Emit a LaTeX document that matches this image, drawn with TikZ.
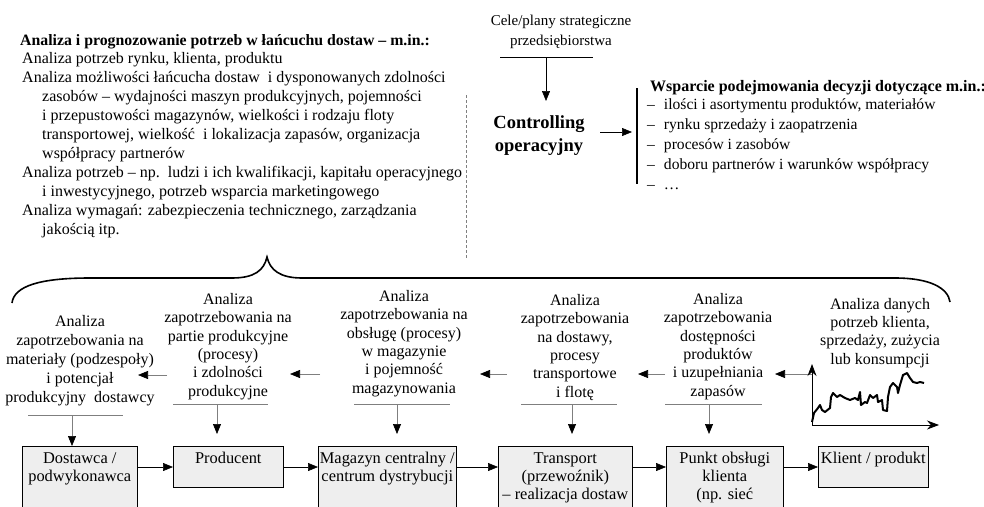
\documentclass[tikz,border=0pt]{standalone}
\usepackage{fontspec}
\setmainfont{Liberation Serif}
\usetikzlibrary{arrows.meta}
\definecolor{boxgray}{HTML}{EEEEEE}
\definecolor{linegray}{HTML}{7F7F7F}
\begin{document}
\begin{tikzpicture}[x=1pt,y=-1pt,
  txt/.style={font=\fontsize{16}{19}\selectfont, inner sep=0pt},
  col/.style={txt, align=center, anchor=base},
  ncol/.style={col, font=\fontsize{16}{18.3}\selectfont},
  lst/.style={txt, align=left, anchor=base west},
  boxnode/.style={draw=black, line width=0.6pt, fill=boxgray, inner xsep=0pt, inner ysep=5pt,
    anchor=north west, font=\fontsize{16.4}{18}\selectfont},
  tip/.style={line width=0.6pt, -{Triangle[length=10pt,width=8pt]}},
  garr/.style={draw=linegray, line width=0.7pt, -{Triangle[length=10pt,width=8pt,black]}},
  uline/.style={draw=linegray, line width=0.9pt},
  axis/.style={line width=0.8pt, -{Stealth[length=12pt,width=9pt]}}
]
\useasboundingbox (0,0) rectangle (984,506);
\clip (0,0) rectangle (984,506);

% ---------- strategic goals and operational controlling ----------
% (multi-line nodes are placed by the baseline of their last line)
\node[col, font=\fontsize{15}{20}\selectfont] (cele) at (561,45) {Cele/plany strategiczne\\przedsiębiorstwa};
\coordinate (celeL) at (500,57);
\coordinate (celeR) at (593,57);
\draw[line width=1pt] (celeL) -- (celeR);
\coordinate (celeA) at (546,57);
\node[col, font=\bfseries\fontsize{18.5}{23}\selectfont] (ctrl) at (539,151) {Controlling\\operacyjny};
\draw[tip] (celeA) -- (546,101);

% decision support list
\coordinate (barT) at (637,88);
\coordinate (barB) at (637,184);
\draw[line width=1.6pt] (barT) -- (barB);
\draw[tip] (600,132) -- (632,132);
\node[lst, font=\bfseries\fontsize{16}{19}\selectfont] (wsp) at (650,91)
  {Wsparcie podejmowania decyzji dotyczące m.in.:};
\node[lst, font=\fontsize{15.6}{20}\selectfont] (wspl) at (647,109)
  {\begin{tabular}[t]{@{}l@{\hspace{9pt}}l@{}}
   – & ilości i asortymentu produktów, materiałów\\
   – & rynku sprzedaży i zaopatrzenia\\
   – & procesów i zasobów\\
   – & doboru partnerów i warunków współpracy\\
   – & \dots
   \end{tabular}};

% ---------- analysis list ----------
\node[lst, font=\bfseries\fontsize{15.8}{19}\selectfont] (ana) at (20,45)
  {Analiza i prognozowanie potrzeb w łańcuchu dostaw – m.in.:};
\node[lst] (anal) at (22,234)
  {Analiza potrzeb rynku, klienta, produktu\\
   Analiza możliwości łańcucha dostaw\ \ i dysponowanych zdolności\\
   \hspace*{20pt}zasobów – wydajności maszyn produkcyjnych, pojemności\\
   \hspace*{20pt}i przepustowości magazynów, wielkości i rodzaju floty\\
   \hspace*{20pt}transportowej, wielkość\ \ i lokalizacja zapasów, organizacja\\
   \hspace*{20pt}współpracy partnerów\\
   Analiza potrzeb – np.\ \ ludzi i ich kwalifikacji, kapitału operacyjnego\\
   \hspace*{20pt}i inwestycyjnego, potrzeb wsparcia marketingowego\\
   Analiza wymagań: zabezpieczenia technicznego, zarządzania\\
   \hspace*{20pt}jakością itp.};
\draw[draw=linegray, line width=0.8pt, dash pattern=on 3pt off 2pt] (466,95) -- (466,259);

% brace
\draw[line width=1.6pt] (12,303) .. controls (14,286) and (40,278) .. (90,278)
  -- (232,278) .. controls (255,278) and (264,270) .. (267,257)
  .. controls (270,270) and (280,278) .. (302,278)
  -- (895,278) .. controls (930,278) and (948,288) .. (950,302);

% ---------- demand analysis columns ----------
\node[col] (c1) at (80,402) {Analiza\\zapotrzebowania na\\materiały (podzespoły)\\i potencjał\\produkcyjny\ \ dostawcy};
\node[ncol] (c2) at (228,396) {Analiza\\zapotrzebowania na\\partie produkcyjne\\(procesy)\\i zdolności\\produkcyjne};
\node[ncol] (c3) at (404,393) {Analiza\\zapotrzebowania na\\obsługę (procesy)\\w magazynie\\i pojemność\\magazynowania};
\node[ncol] (c4) at (575,397) {Analiza\\zapotrzebowania\\na dostawy,\\procesy\\transportowe\\i flotę};
\node[ncol] (c5) at (718,396) {Analiza\\zapotrzebowania\\dostępności\\produktów\\i uzupełniania\\zapasów};
\node[ncol] (c6) at (880,364) {Analiza danych\\potrzeb klienta,\\sprzedaży, zużycia\\lub konsumpcji};

% arrows between the columns
\coordinate (yax) at (812,374);
\coordinate (c1e) at (138,375);
\coordinate (c2w) at (167,375);
\coordinate (c2e) at (290,374);
\coordinate (c3w) at (320,374);
\coordinate (c3e) at (480,374);
\coordinate (c4w) at (507,374);
\coordinate (c4e) at (638,374);
\coordinate (c5w) at (665,374);
\coordinate (c5e) at (775,374);
\draw[garr] (c2w) -- (c1e);
\draw[garr] (c3w) -- (c2e);
\draw[garr] (c4w) -- (c3e);
\draw[garr] (c5w) -- (c4e);
\draw[garr] (yax) -- (c5e);

% customer data chart
\coordinate (org) at (812,425);
\draw[axis] (org) -- (812,364);
\draw[axis] (org) -- (939,425);
\draw[line width=2pt, line join=round] (812,422) -- (814,413) -- (818,408) -- (820,405) -- (822,410)
  -- (825,412) -- (830,408) -- (831,397) -- (833,393) -- (837,397) -- (840,395) -- (845,398)
  -- (850,400) -- (855,398) -- (858,400) -- (860,392) -- (861,405) -- (865,402) -- (867,403)
  -- (870,395) -- (873,398) -- (877,395) -- (878,402) -- (882,400) -- (883,410) -- (887,411)
  -- (888,397) -- (890,387) -- (893,383) -- (897,387) -- (898,393) -- (900,385) -- (903,375)
  -- (907,373) -- (910,378) -- (913,382) -- (917,383) -- (920,382) -- (924,383);

% ---------- supply chain ----------
\node[boxnode] (b1) at (22,446) {\parbox[t][90pt][t]{115pt}{\centering\strut Dostawca /\\podwykonawca}};
\node[boxnode] (b2) at (173,446) {\parbox[t][31pt][t]{110pt}{\centering\strut Producent}};
\node[boxnode] (b3) at (318,446) {\parbox[t][90pt][t]{138pt}{\centering\strut Magazyn centralny /\\centrum dystrybucji}};
\node[boxnode] (b4) at (498,446) {\parbox[t][90pt][t]{134pt}{\centering\strut Transport\\(przewoźnik)\\– realizacja dostaw}};
\node[boxnode] (b5) at (666,446) {\parbox[t][90pt][t]{117pt}{\centering\strut Punkt obsługi\\klienta\\(np. sieć}};
\node[boxnode] (b6) at (818,446) {\parbox[t][31pt][t]{110pt}{\centering\strut Klient / produkt}};

\draw[tip] ([yshift=-21pt]b1.north east) -- ([yshift=-21pt]b2.north west);
\draw[tip] ([yshift=-21pt]b2.north east) -- ([yshift=-21pt]b3.north west);
\draw[tip] ([yshift=-21pt]b3.north east) -- ([yshift=-21pt]b4.north west);
\draw[tip] ([yshift=-21pt]b4.north east) -- ([yshift=-21pt]b5.north west);
\draw[tip] ([yshift=-21pt]b5.north east) -- ([yshift=-21pt]b6.north west);

% underlines of the columns and arrows down to the chain
\draw[uline] (28,415) -- (123,415);
\draw[uline] (173,404) -- (268,404);
\draw[uline] (354,404) -- (450,404);
\draw[uline] (521,404) -- (617,404);
\draw[uline] (665,404) -- (762,404);
\coordinate (u1) at (72,415);
\coordinate (u2) at (217,404);
\coordinate (u3) at (397,404);
\coordinate (u4) at (572,404);
\coordinate (u5) at (709,404);
\draw[garr] (u1) -- (u1 |- b1.north);
\draw[garr] (u2) -- ([yshift=12pt]u2 |- b2.north);
\draw[garr] (u3) -- ([yshift=12pt]u3 |- b3.north);
\draw[garr] (u4) -- ([yshift=12pt]u4 |- b4.north);
\draw[garr] (u5) -- ([yshift=12pt]u5 |- b5.north);
\end{tikzpicture}
\end{document}
